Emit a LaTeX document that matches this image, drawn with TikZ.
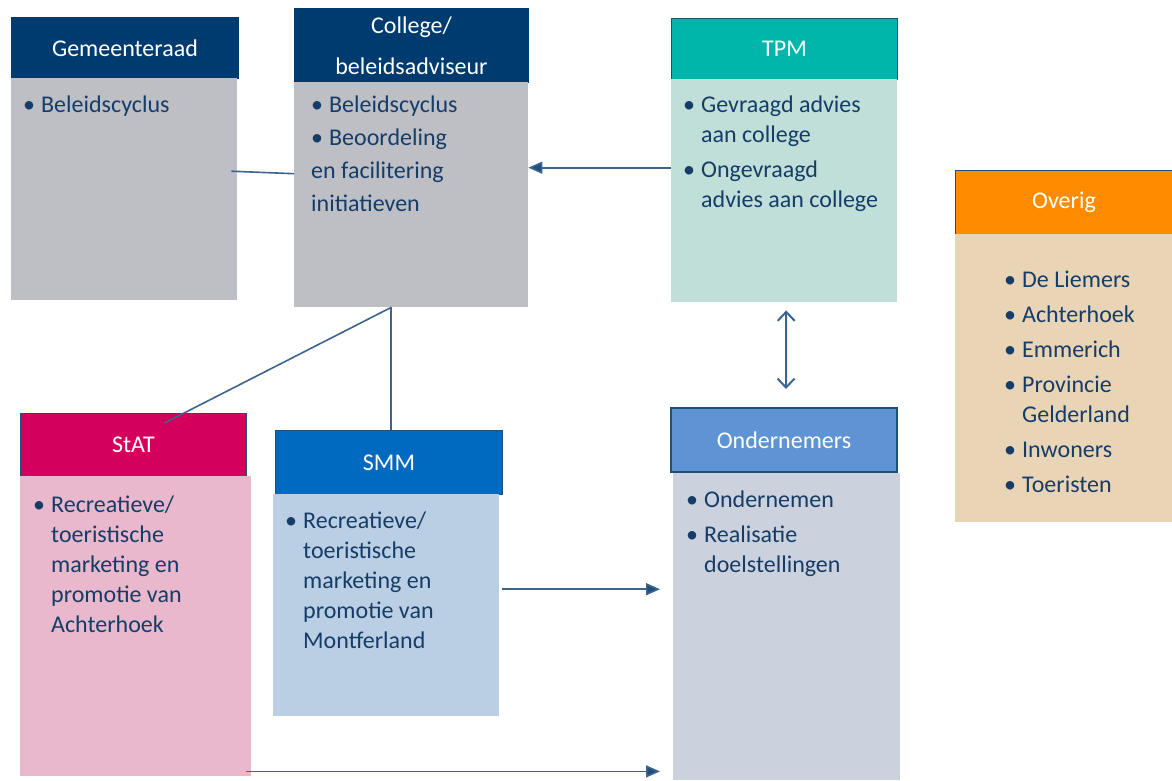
\documentclass[tikz,border=0pt]{standalone}
\usepackage{fontspec}
\setmainfont{Carlito}
\usetikzlibrary{positioning,calc,arrows.meta}

\definecolor{navy}{RGB}{0,59,112}
\definecolor{greybody}{RGB}{189,191,197}
\definecolor{teal}{RGB}{0,181,170}
\definecolor{tealbody}{RGB}{191,223,216}
\definecolor{orangehead}{RGB}{255,140,0}
\definecolor{tan}{RGB}{234,212,182}
\definecolor{magentahead}{RGB}{212,0,94}
\definecolor{pinkbody}{RGB}{233,184,204}
\definecolor{smmblue}{RGB}{0,106,193}
\definecolor{smmbody}{RGB}{186,207,228}
\definecolor{ondblue}{RGB}{95,148,212}
\definecolor{ondbody}{RGB}{203,210,222}
\definecolor{headline}{RGB}{31,78,121}
\definecolor{itemblue}{RGB}{22,60,104}
\definecolor{linkblue}{RGB}{60,100,142}

\newcommand{\bul}{\makebox[18pt][l]{\textbullet}}
\newcommand{\ind}{\hspace*{18pt}}

\tikzset{
  head/.style={draw=headline, line width=1pt, anchor=north west, inner sep=0pt,
    text=white, align=center, font=\fontsize{24}{30}\selectfont},
  body/.style={anchor=north west, inner sep=0pt},
  items/.style={anchor=north west, inner sep=0pt, align=left, text=itemblue,
    font=\fontsize{24}{30}\selectfont},
  link/.style={draw=linkblue, line width=1.6pt},
  arr/.style={link, -{Triangle[length=14pt,width=12pt,fill=headline]}},
  dbl/.style={link, line width=2pt, {Straight Barb[length=9pt,width=17pt]}-{Straight Barb[length=9pt,width=17pt]}}
}

\begin{document}
\begin{tikzpicture}[x=1pt, y=-1pt]
    \useasboundingbox (0,0) rectangle (1172,780);

    % top row
    \node[head, fill=navy, draw=navy, minimum width=227, minimum height=61] (gemhead) at (11,17) {Gemeenteraad};
    \node[body, fill=greybody, minimum width=226, minimum height=222] (gembody) at (11,78) {};
    \node[items] (gemtxt) at (23,96) {\bul Beleidscyclus};

    \node[head, fill=navy, draw=navy, minimum width=234, minimum height=74] (colhead) at (294,8) {College/\\[11pt]beleidsadviseur};
    \node[body, fill=greybody, minimum width=234, minimum height=225] (colbody) at (294,82) {};
    \node[items, font=\fontsize{24}{33}\selectfont] (coltxt) at (311,96)
        {\bul Beleidscyclus\\\bul Beoordeling\\en facilitering\\initiatieven};

    \node[head, fill=teal, minimum width=226, minimum height=61] (tpmhead) at (671,18) {TPM};
    \node[body, fill=tealbody, minimum width=226, minimum height=223] (tpmbody) at (671,79) {};
    \node[items] (tpmtxt) at (683,96)
        {\bul Gevraagd advies\\\ind aan college\\[5pt]\bul Ongevraagd\\\ind advies aan college};

    \node[head, fill=orangehead, minimum width=217, minimum height=64] (ovhead) at (955,170) {Overig};
    \node[body, fill=tan, minimum width=217, minimum height=288] (ovbody) at (955,234) {};
    \node[items] (ovtxt) at (1004,271)
        {\bul De Liemers\\[5pt]\bul Achterhoek\\[5pt]\bul Emmerich\\[5pt]\bul Provincie\\\ind Gelderland\\[5pt]\bul Inwoners\\[5pt]\bul Toeristen};

    % bottom row
    \node[head, fill=magentahead, minimum width=226, minimum height=63] (stathead) at (20,413) {StAT};
    \node[body, fill=pinkbody, minimum width=231, minimum height=300] (statbody) at (20,476) {};
    \node[items] (stattxt) at (33,496)
        {\bul Recreatieve/\\\ind toeristische\\\ind marketing en\\\ind promotie van\\\ind Achterhoek};

    \node[head, fill=smmblue, minimum width=227, minimum height=64] (smmhead) at (275,430) {SMM};
    \node[body, fill=smmbody, minimum width=226, minimum height=222] (smmbody) at (273,494) {};
    \node[items] (smmtxt) at (285,512)
        {\bul Recreatieve/\\\ind toeristische\\\ind marketing en\\\ind promotie van\\\ind Montferland};

    \node[head, fill=ondblue, line width=2pt, minimum width=226, minimum height=64] (ondhead) at (670,407) {Ondernemers};
    \node[body, fill=ondbody, minimum width=227, minimum height=307] (ondbody) at (673,473) {};
    \node[items] (ondtxt) at (686,491)
        {\bul Ondernemen\\[5pt]\bul Realisatie\\\ind doelstellingen};

    % connectors
    \draw[link] ([xshift=-6pt,yshift=18pt]gembody.east) -- ([yshift=21pt]colbody.west);
    \draw[arr] ([yshift=23pt]tpmbody.west) coordinate (tpmout) -- (colbody.east |- tpmout);
    \draw[dbl] ([xshift=2pt,yshift=-8pt]tpmbody.south) -- ([xshift=2pt,yshift=18pt]ondhead.north);
    \draw[link] ([xshift=-20pt]colbody.south) coordinate (colfoot) -- (colfoot |- smmhead.north);
    \draw[link] (colfoot) -- ([xshift=31pt,yshift=-10pt]stathead.north);
    \draw[arr] ([xshift=3pt,yshift=16pt]smmbody.east) coordinate (smmout) -- ($(ondbody.west |- smmout)+(-13,0)$);
    \draw[arr] ([xshift=-5pt,yshift=5pt]statbody.south east) coordinate (statout) -- ($(ondbody.west |- statout)+(-13,0)$);
\end{tikzpicture}
\end{document}
